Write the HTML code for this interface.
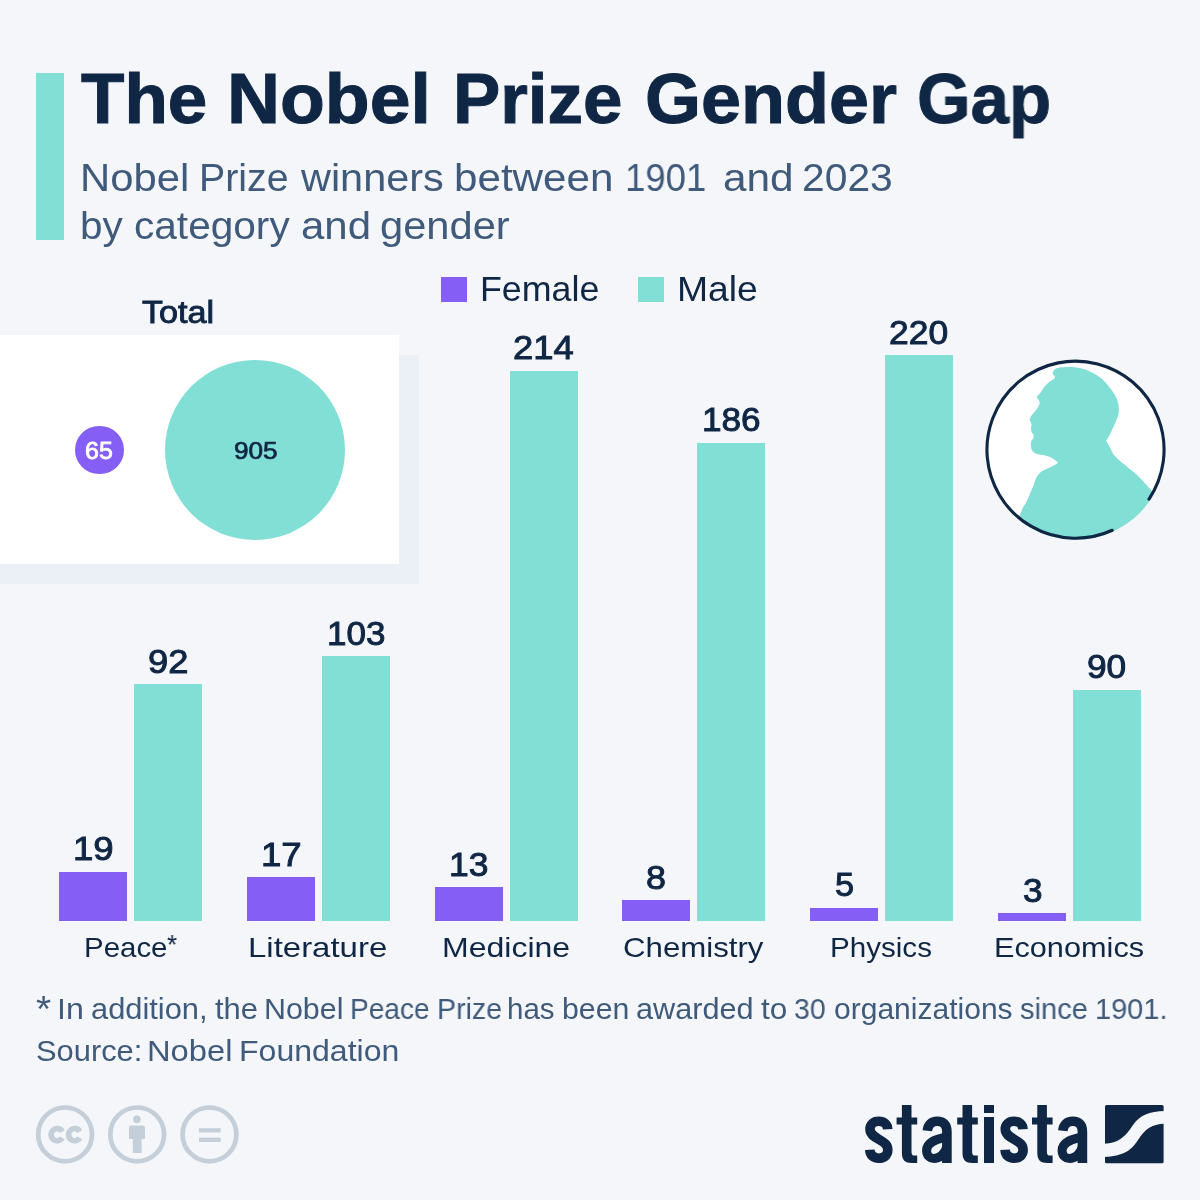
<!DOCTYPE html>
<html>
<head>
<meta charset="utf-8">
<title>The Nobel Prize Gender Gap</title>
<style>
  html, body { margin: 0; padding: 0; }
  body {
    width: 1200px; height: 1200px; overflow: hidden; position: relative;
    background: #f4f6f9;
    font-family: "Liberation Sans", sans-serif;
    color: #0f2644;
  }
  .abs { position: absolute; }
  .t { position: absolute; white-space: nowrap; line-height: 1; transform-origin: 0 0; will-change: transform; -webkit-font-smoothing: antialiased; }
  .f { background: #855ef5; }
  .m { background: #82dfd6; }
  svg { position: absolute; overflow: visible; }
</style>
</head>
<body>

<!-- header -->
<div class="abs m" style="left:36px;top:73px;width:28px;height:167px;"></div>
<div class="t" id="title_0" style="left:81.01px;top:63.74px;font-size:70px;font-weight:bold;-webkit-text-stroke:1.0px #0f2644;transform:scaleX(1.0145);">The</div>
<div class="t" id="title_1" style="left:226.94px;top:63.74px;font-size:70px;font-weight:bold;-webkit-text-stroke:1.0px #0f2644;transform:scaleX(1.0485);">Nobel</div>
<div class="t" id="title_2" style="left:453.08px;top:63.74px;font-size:70px;font-weight:bold;-webkit-text-stroke:1.0px #0f2644;transform:scaleX(1.0127);">Prize</div>
<div class="t" id="title_3" style="left:644.51px;top:63.74px;font-size:70px;font-weight:bold;-webkit-text-stroke:1.0px #0f2644;transform:scaleX(1.0282);">Gender</div>
<div class="t" id="title_4" style="left:917.34px;top:63.74px;font-size:70px;font-weight:bold;-webkit-text-stroke:1.0px #0f2644;transform:scaleX(0.9837);">Gap</div>
<div class="t" id="sub1_0" style="left:79.73px;top:158.15px;font-size:39.1px;color:#3f5a7a;transform:scaleX(1.0696);">Nobel</div>
<div class="t" id="sub1_1" style="left:199.43px;top:158.15px;font-size:39.1px;color:#3f5a7a;transform:scaleX(1.0066);">Prize</div>
<div class="t" id="sub1_2" style="left:301.15px;top:158.15px;font-size:39.1px;color:#3f5a7a;transform:scaleX(1.0602);">winners</div>
<div class="t" id="sub1_3" style="left:454.06px;top:158.15px;font-size:39.1px;color:#3f5a7a;transform:scaleX(1.0790);">between</div>
<div class="t" id="sub1_4" style="left:625.22px;top:158.15px;font-size:39.1px;color:#3f5a7a;transform:scaleX(0.9343);">1901</div>
<div class="t" id="sub1_5" style="left:722.93px;top:158.15px;font-size:39.1px;color:#3f5a7a;transform:scaleX(1.0838);">and</div>
<div class="t" id="sub1_6" style="left:801.84px;top:158.15px;font-size:39.1px;color:#3f5a7a;transform:scaleX(1.0441);">2023</div>
<div class="t" id="sub2_0" style="left:80.47px;top:205.65px;font-size:39.1px;color:#3f5a7a;transform:scaleX(1.0360);">by</div>
<div class="t" id="sub2_1" style="left:134.23px;top:205.65px;font-size:39.1px;color:#3f5a7a;transform:scaleX(1.0387);">category</div>
<div class="t" id="sub2_2" style="left:301.29px;top:205.65px;font-size:39.1px;color:#3f5a7a;transform:scaleX(1.0741);">and</div>
<div class="t" id="sub2_3" style="left:380.40px;top:205.65px;font-size:39.1px;color:#3f5a7a;transform:scaleX(1.0662);">gender</div>

<!-- legend -->
<div class="abs f" style="left:441px;top:277px;width:25.5px;height:25px;"></div>
<div class="t" id="lgf" style="left:479.60px;top:271.91px;font-size:34.6px;transform:scaleX(1.0353);">Female</div>
<div class="abs m" style="left:638px;top:277px;width:25.5px;height:25px;"></div>
<div class="t" id="lgm" style="left:676.58px;top:271.91px;font-size:34.6px;transform:scaleX(1.0791);">Male</div>

<!-- total panel -->
<div class="abs" style="left:0;top:355px;width:418.5px;height:228.7px;background:#ebf0f7;"></div>
<div class="abs" style="left:0;top:335.4px;width:398.5px;height:228.3px;background:#ffffff;"></div>
<div class="t" id="total" style="left:142.26px;top:297.36px;font-size:31.0px;-webkit-text-stroke:0.9px #0f2644;transform:scaleX(1.1025);">Total</div>
<div class="abs f" style="left:75.2px;top:425.7px;width:48.8px;height:48.8px;border-radius:50%;"></div>
<div class="abs m" style="left:165px;top:360px;width:180.4px;height:180.4px;border-radius:50%;"></div>
<div class="t" id="n65" style="left:85.37px;top:438.68px;font-size:24px;color:#ffffff;-webkit-text-stroke:0.8px #ffffff;transform:scaleX(1.0415);">65</div>
<div class="t" id="n905" style="left:233.88px;top:438.68px;font-size:24px;-webkit-text-stroke:0.7px #0f2644;transform:scaleX(1.0906);">905</div>

<!-- bars -->
<div class="abs f" style="left:59.4px;top:872.0px;width:68px;height:48.8px;"></div>
<div class="abs m" style="left:134.3px;top:684.4px;width:68px;height:236.4px;"></div>
<div class="t" id="vf_Peace" style="left:73.02px;top:831.39px;font-size:34px;-webkit-text-stroke:0.95px #0f2644;transform:scaleX(1.0775);">19</div>
<div class="t" id="vm_Peace" style="left:147.55px;top:643.78px;font-size:34px;-webkit-text-stroke:0.95px #0f2644;transform:scaleX(1.0685);">92</div>
<div class="t" id="cat_Peace" style="left:83.70px;top:933.47px;font-size:28.5px;transform:scaleX(1.0332);">Peace</div>
<div class="t" id="star" style="left:166.89px;top:930.80px;font-size:28px;transform:scaleX(0.9342);">*</div>
<div class="abs f" style="left:247.1px;top:877.1px;width:68px;height:43.7px;"></div>
<div class="abs m" style="left:322.0px;top:656.1px;width:68px;height:264.7px;"></div>
<div class="t" id="vf_Literature" style="left:261.02px;top:836.53px;font-size:34px;-webkit-text-stroke:0.95px #0f2644;transform:scaleX(1.0775);">17</div>
<div class="t" id="vm_Literature" style="left:327.05px;top:615.51px;font-size:34px;-webkit-text-stroke:0.95px #0f2644;transform:scaleX(1.0291);">103</div>
<div class="t" id="cat_Literature" style="left:248.13px;top:933.47px;font-size:28.5px;transform:scaleX(1.1562);">Literature</div>
<div class="abs f" style="left:434.7px;top:887.4px;width:68px;height:33.4px;"></div>
<div class="abs m" style="left:509.6px;top:370.8px;width:68px;height:550.0px;"></div>
<div class="t" id="vf_Medicine" style="left:449.48px;top:846.81px;font-size:34px;-webkit-text-stroke:0.95px #0f2644;transform:scaleX(1.0435);">13</div>
<div class="t" id="vm_Medicine" style="left:513.30px;top:330.24px;font-size:34px;-webkit-text-stroke:0.95px #0f2644;transform:scaleX(1.0699);">214</div>
<div class="t" id="cat_Medicine" style="left:441.50px;top:933.47px;font-size:28.5px;transform:scaleX(1.1231);">Medicine</div>
<div class="abs f" style="left:622.4px;top:900.2px;width:68px;height:20.6px;"></div>
<div class="abs m" style="left:697.3px;top:442.8px;width:68px;height:478.0px;"></div>
<div class="t" id="vf_Chemistry" style="left:646.18px;top:859.66px;font-size:34px;-webkit-text-stroke:0.95px #0f2644;transform:scaleX(1.0563);">8</div>
<div class="t" id="vm_Chemistry" style="left:701.79px;top:402.20px;font-size:34px;-webkit-text-stroke:0.95px #0f2644;transform:scaleX(1.0337);">186</div>
<div class="t" id="cat_Chemistry" style="left:622.84px;top:933.47px;font-size:28.5px;transform:scaleX(1.0951);">Chemistry</div>
<div class="abs f" style="left:810.1px;top:907.9px;width:68px;height:12.8px;"></div>
<div class="abs m" style="left:885.0px;top:355.4px;width:68px;height:565.4px;"></div>
<div class="t" id="vf_Physics" style="left:834.61px;top:867.37px;font-size:34px;-webkit-text-stroke:0.95px #0f2644;transform:scaleX(1.0104);">5</div>
<div class="t" id="vm_Physics" style="left:888.73px;top:314.82px;font-size:34px;-webkit-text-stroke:0.95px #0f2644;transform:scaleX(1.0428);">220</div>
<div class="t" id="cat_Physics" style="left:829.99px;top:933.47px;font-size:28.5px;transform:scaleX(1.0381);">Physics</div>
<div class="abs f" style="left:997.7px;top:913.1px;width:68px;height:7.7px;"></div>
<div class="abs m" style="left:1072.6px;top:689.5px;width:68px;height:231.3px;"></div>
<div class="t" id="vf_Economics" style="left:1022.59px;top:872.51px;font-size:34px;-webkit-text-stroke:0.95px #0f2644;transform:scaleX(1.0334);">3</div>
<div class="t" id="vm_Economics" style="left:1087.14px;top:648.92px;font-size:34px;-webkit-text-stroke:0.95px #0f2644;transform:scaleX(1.0378);">90</div>
<div class="t" id="cat_Economics" style="left:993.60px;top:933.47px;font-size:28.5px;transform:scaleX(1.0766);">Economics</div>

<!-- footnote -->
<div class="t" id="fnstar" style="left:36.39px;top:991.53px;font-size:36px;color:#3f5a7a;transform:scaleX(1.0821);">*</div>
<div class="t" id="fn1_0" style="left:57.49px;top:994.03px;font-size:29.5px;color:#3f5a7a;transform:scaleX(1.0900);">In</div>
<div class="t" id="fn1_1" style="left:90.79px;top:994.03px;font-size:29.5px;color:#3f5a7a;transform:scaleX(1.0447);">addition,</div>
<div class="t" id="fn1_2" style="left:214.50px;top:994.03px;font-size:29.5px;color:#3f5a7a;transform:scaleX(1.0486);">the</div>
<div class="t" id="fn1_3" style="left:263.88px;top:994.03px;font-size:29.5px;color:#3f5a7a;transform:scaleX(1.0298);">Nobel</div>
<div class="t" id="fn1_4" style="left:350.31px;top:994.03px;font-size:29.5px;color:#3f5a7a;transform:scaleX(0.9514);">Peace</div>
<div class="t" id="fn1_5" style="left:436.52px;top:994.03px;font-size:29.5px;color:#3f5a7a;transform:scaleX(0.9692);">Prize</div>
<div class="t" id="fn1_6" style="left:507.42px;top:994.03px;font-size:29.5px;color:#3f5a7a;transform:scaleX(0.9934);">has</div>
<div class="t" id="fn1_7" style="left:561.86px;top:994.03px;font-size:29.5px;color:#3f5a7a;transform:scaleX(1.0261);">been</div>
<div class="t" id="fn1_8" style="left:636.04px;top:994.03px;font-size:29.5px;color:#3f5a7a;transform:scaleX(1.0400);">awarded</div>
<div class="t" id="fn1_9" style="left:760.75px;top:994.03px;font-size:29.5px;color:#3f5a7a;transform:scaleX(1.0681);">to</div>
<div class="t" id="fn1_10" style="left:794.11px;top:994.03px;font-size:29.5px;color:#3f5a7a;transform:scaleX(0.9629);">30</div>
<div class="t" id="fn1_11" style="left:834.06px;top:994.03px;font-size:29.5px;color:#3f5a7a;transform:scaleX(1.0180);">organizations</div>
<div class="t" id="fn1_12" style="left:1019.55px;top:994.03px;font-size:29.5px;color:#3f5a7a;transform:scaleX(0.9857);">since</div>
<div class="t" id="fn1_13" style="left:1095.19px;top:994.03px;font-size:29.5px;color:#3f5a7a;transform:scaleX(0.9811);">1901.</div>
<div class="t" id="fn2_0" style="left:35.74px;top:1036.03px;font-size:29.5px;color:#3f5a7a;transform:scaleX(1.0461);">Source:</div>
<div class="t" id="fn2_1" style="left:147.45px;top:1036.03px;font-size:29.5px;color:#3f5a7a;transform:scaleX(1.1081);">Nobel</div>
<div class="t" id="fn2_2" style="left:239.20px;top:1036.03px;font-size:29.5px;color:#3f5a7a;transform:scaleX(1.0859);">Foundation</div>

<!-- medal -->
<svg width="1200" height="1200" viewBox="0 0 1200 1200" style="left:0;top:0;">
  <defs><clipPath id="mc"><circle cx="1075.5" cy="449.7" r="90.1"/></clipPath></defs>
  <circle cx="1075.5" cy="449.7" r="89.1" fill="#ffffff"/>
  <path clip-path="url(#mc)" fill="#82dfd6" d="M1053.0,371.5C1053.0,371.5 1054.8,368.9 1057.0,368.2C1059.2,367.4 1063.0,367.2 1066.0,367.0C1069.0,366.8 1072.0,366.9 1075.0,367.2C1078.0,367.5 1081.0,368.0 1084.0,369.0C1087.0,370.0 1090.0,371.3 1093.0,373.0C1096.0,374.7 1099.2,376.5 1102.0,379.0C1104.8,381.5 1107.7,385.0 1110.0,388.0C1112.3,391.0 1114.6,394.2 1116.0,397.0C1117.4,399.8 1118.0,402.3 1118.5,405.0C1119.0,407.7 1119.1,410.3 1118.7,413.0C1118.3,415.7 1117.1,418.2 1116.0,421.0C1114.9,423.8 1113.2,427.3 1112.0,430.0C1110.8,432.7 1109.5,435.2 1108.5,437.0C1107.5,438.8 1106.2,440.7 1106.2,440.7C1106.2,440.7 1108.7,445.1 1110.0,447.5C1111.3,449.9 1112.3,452.8 1114.0,455.0C1115.7,457.2 1117.8,459.0 1120.0,461.0C1122.2,463.0 1124.8,464.7 1127.5,466.9C1130.2,469.1 1133.4,471.6 1136.0,474.0C1138.6,476.4 1140.7,478.5 1143.0,481.0C1145.3,483.5 1147.8,486.4 1150.0,488.9C1152.2,491.4 1156.0,496.0 1156.0,496.0C1156.0,496.0 1175.0,520.0 1175.0,520.0C1175.0,520.0 1175.0,550.0 1175.0,550.0C1175.0,550.0 1000.0,550.0 1000.0,550.0C1000.0,550.0 1012.0,530.0 1012.0,530.0C1012.0,530.0 1018.7,517.4 1020.5,513.7C1022.3,510.0 1021.6,510.1 1022.7,508.0C1023.8,505.9 1025.6,503.5 1026.9,500.9C1028.2,498.3 1029.3,495.2 1030.5,492.4C1031.7,489.6 1033.0,486.5 1034.0,483.9C1035.0,481.3 1035.6,478.8 1036.8,476.8C1038.0,474.8 1039.1,473.3 1041.0,471.9C1042.9,470.5 1045.8,469.5 1048.2,468.3C1050.6,467.1 1053.6,465.8 1055.2,464.8C1056.8,463.8 1058.0,462.5 1058.0,462.5C1058.0,462.5 1054.0,459.1 1052.0,458.0C1050.0,456.9 1048.2,456.3 1046.0,455.7C1043.8,455.1 1041.0,455.0 1039.0,454.5C1037.0,454.0 1035.2,453.4 1034.0,452.5C1032.8,451.6 1032.0,450.4 1031.5,449.0C1031.0,447.6 1030.8,445.4 1030.8,444.0C1030.8,442.6 1031.0,441.5 1031.5,440.5C1032.0,439.5 1033.2,438.9 1033.5,438.0C1033.8,437.1 1033.8,436.0 1033.5,435.0C1033.2,434.0 1031.9,433.2 1031.5,432.0C1031.1,430.8 1031.0,429.3 1031.0,428.0C1031.0,426.7 1031.7,425.3 1031.5,424.0C1031.3,422.7 1030.0,421.2 1029.8,420.0C1029.6,418.8 1029.8,418.2 1030.5,417.0C1031.2,415.8 1032.8,414.0 1034.0,412.5C1035.2,411.0 1036.6,409.4 1037.5,408.0C1038.4,406.6 1039.2,405.2 1039.5,404.0C1039.8,402.8 1039.4,401.5 1039.0,400.5C1038.6,399.5 1037.2,398.8 1037.0,398.0C1036.8,397.2 1036.8,397.0 1037.5,396.0C1038.2,395.0 1039.8,393.7 1041.0,392.0C1042.2,390.3 1043.5,387.8 1045.0,386.0C1046.5,384.2 1048.5,382.7 1050.0,381.5C1051.5,380.3 1053.2,379.8 1054.0,379.0C1054.8,378.2 1055.2,377.2 1055.0,376.5C1054.8,375.8 1053.3,375.3 1053.0,374.5C1052.7,373.7 1053.0,371.5 1053.0,371.5Z"/>
  <path fill="none" stroke="#0f2644" stroke-width="3.1" stroke-linecap="round" d="M1112.22,530.28A88.55,88.55 0 1 1 1149.00,499.09"/>
</svg>

<!-- cc icons -->
<svg width="1200" height="1200" viewBox="0 0 1200 1200" style="left:0;top:0;">
<g fill="none" stroke="#c4cfd9" stroke-width="4.7">
<circle cx="65.1" cy="1134.4" r="26.9"/>
<circle cx="137.2" cy="1134.4" r="26.9"/>
<circle cx="209.5" cy="1134.4" r="26.9"/>
</g>
<path d="M62.37,1131.42A6.1,6.1 0 1 0 62.37,1137.88" fill="none" stroke="#c4cfd9" stroke-width="5.6"/>
<path d="M79.87,1131.42A6.1,6.1 0 1 0 79.87,1137.88" fill="none" stroke="#c4cfd9" stroke-width="5.6"/>
<g fill="#c4cfd9">
<circle cx="136.9" cy="1119.4" r="3.8"/>
<path d="M129,1127.4 q0,-2 2,-2 h12 q2,0 2,2 v11.6 h-3.4 v14.1 h-8.8 v-14.1 h-3.8 z"/>
<rect x="199" y="1128.2" width="21.6" height="4.3"/>
<rect x="199" y="1137.6" width="21.6" height="4.3"/>
</g></svg>

<!-- statista logo -->
<svg width="1200" height="1200" viewBox="0 0 1200 1200" style="left:0;top:0;">
  <g transform="translate(865.1,1163)"><path fill="none" stroke="#0f2644" stroke-width="9.6" d="M22.6,-33.8 C22.4,-38.8 18.8,-41.7 13.6,-41.7 C8.2,-41.7 4.9,-38.6 4.9,-33.9 C4.9,-28.9 8.6,-26.6 13.8,-23.6 C19.2,-20.5 22.7,-18.2 22.7,-12.9 C22.7,-7.9 19,-4.8 13.7,-4.8 C8.2,-4.8 4.9,-7.8 4.7,-13.2"/></g><g transform="translate(896.6,1163)"><path fill="#0f2644" d="M5.3,-58 H14.9 V-45.6 H20.6 V-38.4 H14.9 V-11.5 C14.9,-8.3 15.9,-7.4 18.4,-7.4 H20.6 V0 H15.2 C8.6,0 5.3,-3 5.3,-10 V-38.4 H0 V-45.6 H5.3 Z"/></g><g transform="translate(922.0,1163)"><path fill="none" stroke="#0f2644" stroke-width="9.6" d="M5.3,-32.2 C6,-38.6 9.6,-41.7 15.2,-41.7 C21.4,-41.7 24.9,-38.4 24.9,-31.6 V0"/><path fill="none" stroke="#0f2644" stroke-width="9.0" d="M25,-26.5 C21,-24.5 4.6,-23.5 4.6,-12.6 C4.6,-7.6 7.6,-4.6 12,-4.6 C17.5,-4.6 22,-8.5 25,-16"/></g><g transform="translate(957.2,1163)"><path fill="#0f2644" d="M5.3,-58 H14.9 V-45.6 H20.6 V-38.4 H14.9 V-11.5 C14.9,-8.3 15.9,-7.4 18.4,-7.4 H20.6 V0 H15.2 C8.6,0 5.3,-3 5.3,-10 V-38.4 H0 V-45.6 H5.3 Z"/></g><g transform="translate(984.0,1163)"><path fill="#0f2644" d="M0,-58 H10 V-50 H0 Z M0,-46 H10 V0 H0 Z"/></g><g transform="translate(1000.4,1163)"><path fill="none" stroke="#0f2644" stroke-width="9.6" d="M22.6,-33.8 C22.4,-38.8 18.8,-41.7 13.6,-41.7 C8.2,-41.7 4.9,-38.6 4.9,-33.9 C4.9,-28.9 8.6,-26.6 13.8,-23.6 C19.2,-20.5 22.7,-18.2 22.7,-12.9 C22.7,-7.9 19,-4.8 13.7,-4.8 C8.2,-4.8 4.9,-7.8 4.7,-13.2"/></g><g transform="translate(1032.0,1163)"><path fill="#0f2644" d="M5.3,-58 H14.9 V-45.6 H20.6 V-38.4 H14.9 V-11.5 C14.9,-8.3 15.9,-7.4 18.4,-7.4 H20.6 V0 H15.2 C8.6,0 5.3,-3 5.3,-10 V-38.4 H0 V-45.6 H5.3 Z"/></g><g transform="translate(1057.5,1163)"><path fill="none" stroke="#0f2644" stroke-width="9.6" d="M5.3,-32.2 C6,-38.6 9.6,-41.7 15.2,-41.7 C21.4,-41.7 24.9,-38.4 24.9,-31.6 V0"/><path fill="none" stroke="#0f2644" stroke-width="9.0" d="M25,-26.5 C21,-24.5 4.6,-23.5 4.6,-12.6 C4.6,-7.6 7.6,-4.6 12,-4.6 C17.5,-4.6 22,-8.5 25,-16"/></g>
  <g transform="translate(1105,1105)">
    <rect x="0" y="0" width="58.6" height="58.3" rx="1.5" fill="#0f2644"/>
    <path fill="#f4f6f9" d="M-1,38.7 C14,38 20,32 28,20 C35,10 44,6.5 60,6 L60,18.7 C46,19 40,24 33,35 C26,46 18,51 -1,52 Z"/>
  </g>
</svg>


</body>
</html>
